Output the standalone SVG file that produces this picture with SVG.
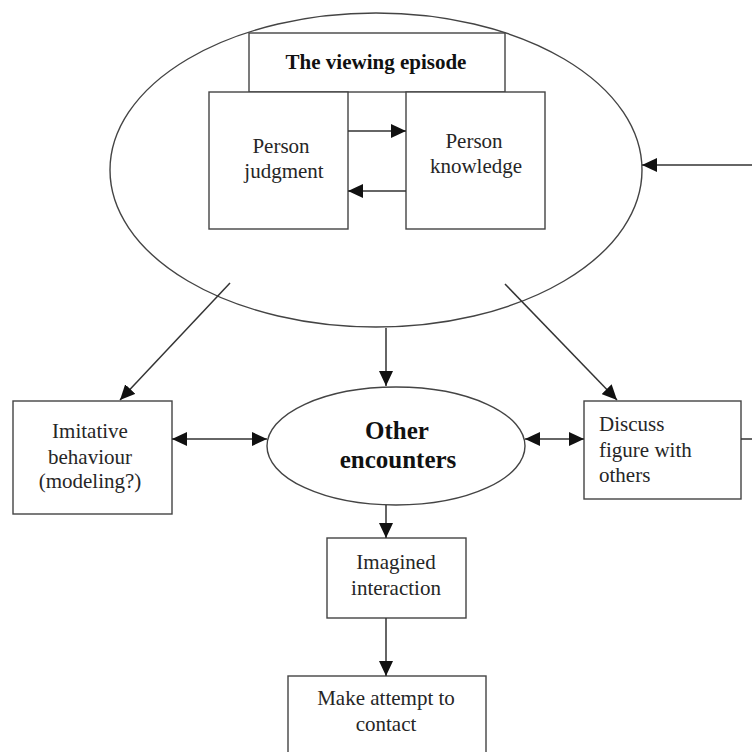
<svg xmlns="http://www.w3.org/2000/svg" width="752" height="752" viewBox="0 0 752 752">
  <style>
    .shape { fill: #ffffff; stroke: #444444; stroke-width: 1.4; }
    .edge { fill: none; stroke: #333333; stroke-width: 1.5; }
    .lbl { font-family: "Liberation Serif", "Times New Roman", serif; font-size: 21px; fill: #262626; text-anchor: middle; }
    .lbl-l { font-family: "Liberation Serif", "Times New Roman", serif; font-size: 21px; fill: #262626; text-anchor: start; }
    .title { font-family: "Liberation Serif", "Times New Roman", serif; font-size: 21px; font-weight: bold; fill: #111111; text-anchor: middle; }
    .big { font-family: "Liberation Serif", "Times New Roman", serif; font-size: 25px; font-weight: bold; fill: #111111; text-anchor: middle; }
  </style>
  <defs>
    <marker id="arrow" viewBox="0 0 15 14" refX="15" refY="7" markerWidth="15" markerHeight="14" markerUnits="userSpaceOnUse" orient="auto-start-reverse">
      <path d="M0,0 L15,7 L0,14 Z" fill="#111111"/>
    </marker>
  </defs>
  <rect width="752" height="752" fill="#ffffff"/>

  <!-- viewing episode -->
  <g id="viewing-episode">
    <ellipse class="shape" cx="376" cy="170" rx="266" ry="157"/>
    <rect class="shape" x="249" y="33" width="256" height="59"/>
    <text class="title" x="376" y="69">The viewing episode</text>
  </g>

  <g id="person-judgment">
    <rect class="shape" x="209" y="92" width="139" height="137"/>
    <text class="lbl" x="281" y="153">Person</text>
    <text class="lbl" x="284" y="178">judgment</text>
  </g>

  <g id="person-knowledge">
    <rect class="shape" x="406" y="92" width="139" height="137"/>
    <text class="lbl" x="474" y="148">Person</text>
    <text class="lbl" x="476" y="173">knowledge</text>
  </g>

  <g id="imitative-behaviour">
    <rect class="shape" x="13" y="401" width="159" height="113"/>
    <text class="lbl" x="90" y="438">Imitative</text>
    <text class="lbl" x="90" y="464">behaviour</text>
    <text class="lbl" x="90" y="488">(modeling?)</text>
  </g>

  <g id="other-encounters">
    <ellipse class="shape" cx="396" cy="446" rx="129" ry="59"/>
    <text class="big" x="397" y="439">Other</text>
    <text class="big" x="398" y="468">encounters</text>
  </g>

  <g id="discuss-figure">
    <rect class="shape" x="584" y="401" width="157" height="98"/>
    <text class="lbl-l" x="599" y="431">Discuss</text>
    <text class="lbl-l" x="599" y="457">figure with</text>
    <text class="lbl-l" x="599" y="482">others</text>
  </g>

  <g id="imagined-interaction">
    <rect class="shape" x="327" y="538" width="139" height="80"/>
    <text class="lbl" x="396" y="569">Imagined</text>
    <text class="lbl" x="396" y="595">interaction</text>
  </g>

  <g id="make-attempt">
    <rect class="shape" x="288" y="676" width="198" height="90"/>
    <text class="lbl" x="386" y="705">Make attempt to</text>
    <text class="lbl" x="386" y="731">contact</text>
  </g>

  <g id="connectors">
    <!-- inside the viewing episode -->
    <line class="edge" x1="348" y1="131" x2="406" y2="131" marker-end="url(#arrow)"/>
    <line class="edge" x1="406" y1="191" x2="348" y2="191" marker-end="url(#arrow)"/>
    <!-- out of the viewing episode -->
    <line class="edge" x1="230" y1="283" x2="120" y2="400" marker-end="url(#arrow)"/>
    <line class="edge" x1="386" y1="328" x2="386" y2="386" marker-end="url(#arrow)"/>
    <line class="edge" x1="505" y1="284" x2="617" y2="400" marker-end="url(#arrow)"/>
    <!-- around other encounters -->
    <line class="edge" x1="172" y1="439" x2="267" y2="439" marker-start="url(#arrow)" marker-end="url(#arrow)"/>
    <line class="edge" x1="525" y1="439" x2="584" y2="439" marker-start="url(#arrow)" marker-end="url(#arrow)"/>
    <line class="edge" x1="386" y1="505" x2="386" y2="538" marker-end="url(#arrow)"/>
    <line class="edge" x1="386" y1="618" x2="386" y2="676" marker-end="url(#arrow)"/>
    <!-- feedback into the viewing episode -->
    <line class="edge" x1="741" y1="439" x2="752" y2="439"/>
    <line class="edge" x1="752" y1="165" x2="642" y2="165" marker-end="url(#arrow)"/>
  </g>
</svg>
